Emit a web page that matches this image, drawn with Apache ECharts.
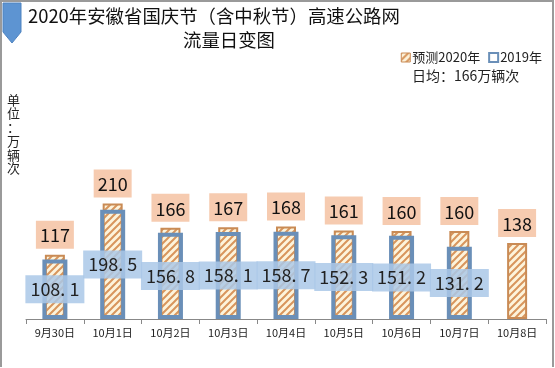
<!DOCTYPE html>
<html><head><meta charset="utf-8">
<script src="https://cdn.jsdelivr.net/npm/echarts@6/dist/echarts.min.js"></script>
<style>html,body{margin:0;padding:0;background:#fff}#c{width:555px;height:368px}</style>
</head><body><div id="c"></div>
<script>
var categories = ['9月30日','10月1日','10月2日','10月3日','10月4日','10月5日','10月6日','10月7日','10月8日'];
var forecast2020 = [117,210,166,167,168,161,160,160,138];
var actual2019 = [108.1,198.5,156.8,158.1,158.7,152.3,151.2,131.2,null];
var titleLine1 = '2020年安徽省国庆节（含中秋节）高速公路网';
var titleLine2 = '流量日变图';
var avgText = '日均：166万辆次';
var unitText = '单位：万辆次';

var FONT = '"Noto Sans CJK SC", "Noto Sans", sans-serif';

function hatch(){
  var n = 7, cv = document.createElement('canvas');
  cv.width = n; cv.height = n;
  var ctx = cv.getContext('2d');
  ctx.fillStyle = '#fdf4dc'; ctx.fillRect(0,0,n,n);
  ctx.strokeStyle = '#d8955c'; ctx.lineWidth = 2;
  ctx.beginPath();
  ctx.moveTo(0,n); ctx.lineTo(n,0);
  ctx.moveTo(-n/2,n/2); ctx.lineTo(n/2,-n/2);
  ctx.moveTo(n/2,n*1.5); ctx.lineTo(n*1.5,n/2);
  ctx.stroke();
  return cv;
}
var pat = {image: hatch(), repeat: 'repeat'};

var chart = echarts.init(document.getElementById('c'), null, {renderer:'canvas'});
var grid = {left:26, right:9, top:181.5, bottom:49};
chart.setOption({
  animation:false,
  textStyle:{fontFamily:FONT},
  title:[
    {text:titleLine1, left:28, top:7, padding:0, textStyle:{fontSize:18.4, fontWeight:'normal', color:'#111', fontFamily:FONT}},
    {text:titleLine2, left:183, top:31, padding:0, textStyle:{fontSize:18.4, fontWeight:'normal', color:'#111', fontFamily:FONT}}
  ],
  legend:{
    right:8, top:46, itemWidth:9, itemHeight:9, itemGap:8, icon:'rect',
    textStyle:{fontSize:13, color:'#222', fontFamily:FONT, padding:[0,0,0,-3]},
    data:[
      {name:'预测2020年', itemStyle:{color:pat, borderColor:'#c98b55', borderWidth:1}},
      {name:'2019年', itemStyle:{color:'#fff', borderColor:'#6a8fb8', borderWidth:2}}
    ]
  },
  grid:grid,
  xAxis:[
    {type:'category', data:categories, axisLine:{lineStyle:{color:'#888'}},
     axisTick:{show:true, length:5, lineStyle:{color:'#888'}},
     axisLabel:{fontSize:11, color:'#222', margin:8, fontFamily:FONT}},
    {type:'category', data:categories, show:false}
  ],
  yAxis:{type:'value', min:0, max:250, show:false},
  series:[
    {name:'预测2020年', type:'bar', xAxisIndex:0, data:forecast2020, barWidth:20, z:2,
     itemStyle:{color:pat, borderColor:'#c98b55', borderWidth:2},
     label:{show:true, position:'top', distance:6, fontSize:18, color:'#111',
       backgroundColor:'#f6cbb0', padding:[6,4,4,4], fontFamily:FONT}},
    {name:'2019年', type:'bar', xAxisIndex:1, data:actual2019, barWidth:25, z:3,
     itemStyle:{color:'rgba(0,0,0,0)', borderColor:'#6a8fb8', borderWidth:4},
     label:{show:true, position:'inside', fontSize:18, color:'#222',
       backgroundColor:'rgba(170,200,232,0.85)', padding:[6,5,4,5], fontFamily:FONT,
       formatter:function(p){return p.value==null?'':p.value.toFixed(1).replace('.', '. ');}}}
  ],
  graphic:[
    {type:'polyline', shape:{points:[[1,367],[1,1],[553,1],[553,367]]}, style:{stroke:'#9a9a9a', lineWidth:2, fill:null}},
    {type:'polygon', shape:{points:[[3,3],[21,3],[21,32],[12,43],[3,32]]}, style:{fill:'#5d94d2', stroke:'#4f83c0', lineWidth:1}},
    {type:'text', left:412, top:69, style:{text:avgText, fontSize:14, fill:'#222', fontFamily:FONT}},
    {type:'text', left:7, top:93, style:{text:unitText.split('').join('\n'), fontSize:13, lineHeight:13.7, fill:'#222', fontFamily:FONT}}
  ]
});
</script></body></html>
